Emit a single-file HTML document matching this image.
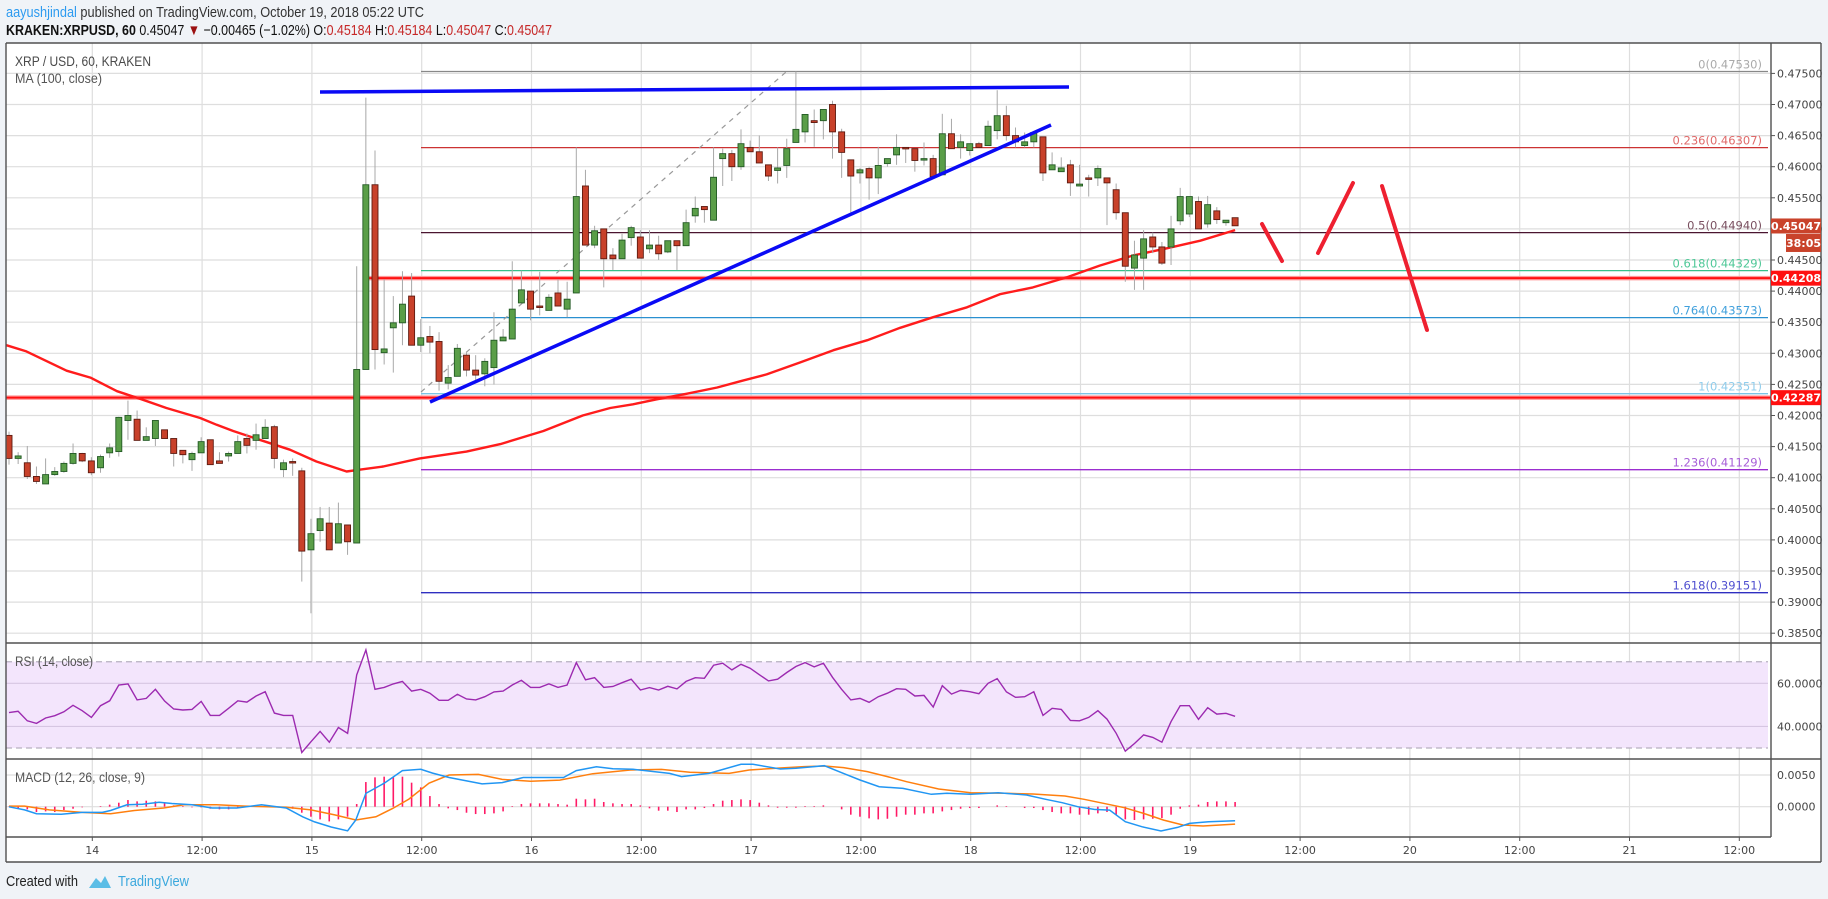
<!DOCTYPE html>
<html><head><meta charset="utf-8"><title>XRP/USD chart</title>
<style>
html,body{margin:0;padding:0;background:#f0f3f7;}
svg{display:block;}
text{font-family:"DejaVu Sans",sans-serif;}
.hd{font-family:"Liberation Sans",sans-serif;}
</style></head>
<body>
<svg id="chart" width="1828" height="899" viewBox="0 0 1828 899" xmlns="http://www.w3.org/2000/svg">
<rect x="0" y="0" width="1828" height="899" fill="#f0f3f7"/>
<text class="hd" x="6" y="17" font-size="15" fill="#333" textLength="418" lengthAdjust="spacingAndGlyphs"><tspan fill="#2d9bf0">aayushjindal</tspan> published on TradingView.com, October 19, 2018 05:22 UTC</text>
<text class="hd" x="6" y="35" font-size="15" fill="#111" textLength="546" lengthAdjust="spacingAndGlyphs"><tspan font-weight="bold">KRAKEN:XRPUSD, 60</tspan> 0.45047 <tspan fill="#9b1010">▼</tspan> −0.00465 (−1.02%) O:<tspan fill="#c62828">0.45184</tspan> H:<tspan fill="#c62828">0.45184</tspan> L:<tspan fill="#c62828">0.45047</tspan> C:<tspan fill="#c62828">0.45047</tspan></text>
<rect x="6" y="43" width="1815" height="819" fill="#ffffff"/>
<g id="grid"></g>
<rect x="6" y="661.7" width="1762" height="86.3" fill="#f3e5fc"/>
<g id="rsigrid"></g>
<g id="fib"></g>
<g id="levels"></g>
<g id="ma"></g>
<g id="candles"></g>
<g id="draw"></g>
<g id="rsi"></g>
<g id="macd"></g>
<g id="frame"></g>
<g id="axis"></g>
<text class="hd" x="15" y="66" font-size="14" fill="#4a4a4a" textLength="136" lengthAdjust="spacingAndGlyphs">XRP / USD, 60, KRAKEN</text>
<text class="hd" x="15" y="83" font-size="14" fill="#555" textLength="87" lengthAdjust="spacingAndGlyphs">MA (100, close)</text>
<text class="hd" x="15" y="666" font-size="14" fill="#555" textLength="78" lengthAdjust="spacingAndGlyphs">RSI (14, close)</text>
<text class="hd" x="15" y="782" font-size="14" fill="#555" textLength="130" lengthAdjust="spacingAndGlyphs">MACD (12, 26, close, 9)</text>
<text class="hd" x="6" y="886" font-size="15" fill="#222" textLength="72" lengthAdjust="spacingAndGlyphs">Created with</text>
<g>
<path d="M89 888 l7 -10 l5 5 l4 -7 l6 12 z" fill="#5bbde6"/>
<text class="hd" x="118" y="886" font-size="15" fill="#3ba8dd" textLength="71" lengthAdjust="spacingAndGlyphs">TradingView</text>
</g>
</svg>
<script>
// ---- candle data (hourly) ----
const opens=[.4168,.4131,.4124,.4102,.4090,.4105,.4110,.4123,.4139,.4127,.4116,.4140,.4142,.4192,.4194,.4160,.4163,.4177,.4163,.4144,.4129,.4140,.4161,.4127,.4135,.4139,.4163,.4160,.4163,.4182,.4113,.4126,.4111,.3984,.4015,.4027,.3995,.4024,.3995,.4274,.4571,.4301,.4341,.4349,.4392,.4313,.4327,.4319,.4252,.4263,.4297,.4273,.4267,.4277,.4320,.4323,.4381,.4400,.4376,.4369,.4397,.4371,.4397,.4569,.4474,.4500,.4458,.4452,.4486,.4487,.4468,.4474,.4463,.4481,.4473,.4521,.4536,.4514,.4613,.4621,.4600,.4631,.4624,.4603,.4594,.4602,.4639,.4656,.4674,.4674,.4700,.4656,.4611,.4590,.4597,.4582,.4605,.4619,.4631,.4629,.4611,.4613,.4587,.4653,.4631,.4626,.4637,.4634,.4658,.4682,.4650,.4634,.4640,.4648,.4595,.4592,.4603,.4569,.4582,.4582,.4582,.4563,.4526,.4437,.4453,.4487,.4471,.4471,.4513,.4524,.4544,.4508,.4529,.4510,.4518];
const highs=[.4174,.4141,.4151,.4118,.4131,.4117,.4126,.4155,.4140,.4133,.4137,.4155,.4198,.4224,.4208,.4181,.4192,.4177,.4163,.4144,.4142,.4165,.4161,.4141,.4142,.4168,.4171,.4187,.4194,.4185,.4129,.4131,.4116,.4034,.4053,.4053,.4060,.4024,.4440,.4711,.4626,.4419,.4392,.4432,.4429,.4355,.4344,.4334,.4281,.4315,.4302,.4297,.4292,.4366,.4339,.4448,.4433,.4400,.4431,.4395,.4419,.4415,.4631,.4595,.4505,.4500,.4469,.4492,.4505,.4498,.4498,.4489,.4481,.4481,.4531,.4552,.4536,.4631,.4629,.4627,.4660,.4642,.4650,.4603,.4631,.4645,.4753,.4684,.4692,.4692,.4706,.4661,.4611,.4598,.4600,.4632,.4613,.4652,.4631,.4629,.4639,.4619,.4685,.4677,.4652,.4637,.4640,.4674,.4723,.4698,.4663,.4655,.4655,.4648,.4623,.4615,.4611,.4603,.4587,.4602,.4582,.4573,.4526,.4481,.4498,.4494,.4479,.4521,.4566,.4552,.4552,.4553,.4535,.4514,.4518];
const lows=[.4121,.4122,.4098,.4090,.4090,.4103,.4108,.4121,.4125,.4104,.4108,.4132,.4134,.4161,.4160,.4160,.4151,.4163,.4118,.4123,.4111,.4140,.4121,.4123,.4126,.4139,.4139,.4145,.4163,.4115,.4101,.4103,.3933,.3882,.3997,.3984,.3995,.3976,.3995,.4274,.4274,.4282,.4269,.4313,.4313,.4302,.4300,.4240,.4242,.4263,.4263,.4255,.4247,.4250,.4320,.4323,.4381,.4353,.4361,.4369,.4376,.4358,.4397,.4474,.4469,.4406,.4434,.4452,.4473,.4453,.4461,.4450,.4461,.4434,.4473,.4510,.4510,.4514,.4569,.4577,.4595,.4624,.4606,.4577,.4573,.4582,.4639,.4639,.4632,.4644,.4613,.4582,.4526,.4573,.4547,.4556,.4600,.4603,.4606,.4592,.4602,.4584,.4587,.4629,.4613,.4618,.4631,.4634,.4644,.4642,.4631,.4631,.4631,.4577,.4595,.4592,.4553,.4569,.4552,.4569,.4506,.4515,.4415,.4402,.4402,.4461,.4442,.4442,.4506,.4519,.4500,.4502,.4508,.4505,.4505];
const closes=[.4131,.4135,.4102,.4094,.4105,.4110,.4123,.4139,.4127,.4108,.4134,.4148,.4197,.4200,.4160,.4166,.4192,.4163,.4139,.4137,.4139,.4158,.4121,.4123,.4139,.4158,.4152,.4169,.4181,.4131,.4124,.4124,.3982,.4010,.4034,.3984,.4026,.3997,.4274,.4571,.4306,.4307,.4349,.4379,.4313,.4325,.4318,.4255,.4261,.4308,.4273,.4265,.4287,.4321,.4326,.4371,.4402,.4371,.4374,.4390,.4376,.4387,.4552,.4474,.4497,.4452,.4452,.4482,.4502,.4453,.4474,.4460,.4481,.4473,.4510,.4533,.4531,.4583,.4621,.4600,.4637,.4624,.4606,.4585,.4598,.4629,.4660,.4684,.4671,.4692,.4656,.4623,.4585,.4595,.4582,.4602,.4613,.4631,.4629,.4610,.4613,.4584,.4653,.4629,.4640,.4637,.4631,.4665,.4682,.4650,.4640,.4640,.4655,.4590,.4603,.4598,.4574,.4572,.4581,.4597,.4574,.4526,.4440,.4458,.4484,.4471,.4445,.4500,.4552,.4552,.4500,.4539,.4515,.4514,.4505];
// ---- MA(100) read at candle positions ----
const maIdx=[-0.3,1.9,6.3,8.9,11.8,14.3,17.2,20.9,22.7,24.5,27.4,30.7,33.6,36.9,38.4,40.9,44.9,50.0,53.7,58.4,62.7,65.7,68.2,70.8,74.1,77.4,79.9,82.8,86.4,90.1,93.8,97.4,101,104.7,108.3,111.9,115.6,119.2,122.8,126.6,130.2,134];
const maVal=[.4313,.4303,.4272,.4261,.4239,.4227,.4212,.4196,.4185,.4175,.4161,.4145,.4126,.4110,.4113,.4118,.4131,.4142,.4154,.4175,.4200,.4212,.4218,.4226,.4235,.4245,.4255,.4266,.4285,.4305,.4321,.4341,.4358,.4374,.4395,.4406,.4422,.4441,.4457,.4469,.4481,.4498];
// ---- RSI(14) ----
const rsiVals=[46.4,47.0,42.6,41.4,43.9,45.0,46.8,49.8,47.3,44.2,49.6,51.9,59.2,59.7,52.3,53.0,57.2,51.8,48.1,47.6,47.9,51.6,45.1,45.1,48.4,51.9,51.3,54.1,56.1,46.2,45.1,45.1,27.9,32.9,37.7,32.7,39.5,36.8,63.9,75.5,57.2,58.1,59.7,60.9,56.4,57.2,55.4,52.1,52.1,54.9,52.7,52.3,53.8,56.0,56.4,59.2,61.4,58.1,58.1,59.7,58.1,59.2,69.6,61.6,62.6,58.1,58.5,60.3,61.9,56.9,58.0,56.9,58.6,57.4,60.9,62.6,62.3,68.4,69.3,66.2,68.8,67.0,64.0,61.1,61.9,65.0,67.8,69.6,67.6,69.3,62.8,57.2,52.3,53.0,51.2,53.8,55.4,57.5,57.2,54.1,54.4,49.0,58.9,55.0,56.7,56.1,55.2,60.0,62.2,56.0,53.5,53.8,56.1,45.1,48.4,47.9,42.8,42.6,44.2,47.3,43.4,36.8,28.5,32.1,36.1,34.9,32.7,42.2,49.6,49.6,43.3,48.7,45.7,46.1,44.7];
// ---- MACD (units of 0.0001) ----
const macdIdx=[0,1.7,3,5.7,8,10.2,11.1,12.9,14.6,16.4,17.8,20,22.2,24.9,27.6,30.3,32.1,33.4,35.2,37,37.9,39,41,43,45,46.3,48.1,51.7,53.9,56.2,60.6,62,64.2,66,68.2,72.2,73.5,76.5,80,81.3,84.3,86,89.1,91.2,93,95.1,97.7,100.8,102.5,105.1,108.1,111.2,113.3,115.1,116.8,118.6,120.3,122,123.8,125.9,127.7,129,131.1,134];
const macdVal=[-0.2,-5,-11,-12,-9,-9,-6,3,4,7,5,3,-2,-2,3,-2,-16,-24,-32,-38,-21,21,37,57,59,53,46,36,38,46,46,57,63,60,59,52.6,47.4,52.6,66.8,66.8,59.5,60.5,64.7,52.6,42.1,31.6,28.9,19.5,21.1,19.5,22.1,18.4,11.6,6.3,0,-4.2,-5.3,-23.7,-31.6,-38.4,-32.6,-26.3,-23.7,-22.1];
const sigIdx=[0,1.7,4.4,8,11.1,13.7,16.9,19.1,22.7,25.8,30.3,33,35.6,37.9,40.1,41.9,43.7,45.9,48.1,51.3,53.9,57,60.2,63.8,67.9,71.3,74.4,78.7,80.9,84.3,86.9,89.1,91.2,93.8,96,98.1,101.6,105.1,108.9,111.9,115.4,117.5,121.9,124,126.2,128.3,130.5,134];
const sigVal=[1,1,-5,-9,-11,-6,-2,3,3,1,-1,-5,-13,-21,-16,-3,12,37,50,51,43,40,42,52,57.9,58.9,54.2,52.6,57.9,61.1,63.2,64.2,61.6,55.3,47.4,39.5,27.9,22.1,21.1,20,16.8,11.6,-1.6,-10.5,-21.1,-28.9,-30.5,-27.4];
const histVals=[-0.5,-2.6,-4.2,-8.4,-7.4,-8.4,-5.3,-3.2,-1,0,1,3.2,6.3,10.5,8.4,9.5,8.4,5.3,2.1,1,-1,-1,-3.2,-4.2,-4.2,-2.1,0.5,1,2.1,1,-0.5,-3.2,-9.5,-15.8,-20,-23.2,-20,-15.8,4.2,38.9,46.3,47.4,47.4,47.4,37.9,30.5,16.8,4.2,-2.6,-5.3,-9.5,-11.6,-11.6,-10.5,-7.4,1,4.2,5.3,5.3,5.3,4.2,3.2,12.6,11.6,12.6,7.4,5.3,4.2,4.2,2.1,-2.6,-6.3,-6.3,-8.4,-4.2,-4.2,-2.1,4.2,9.5,10.5,11.6,10.5,6.3,2.1,-1.6,-1.6,-1.6,1,1,2.1,0,-4.2,-12.6,-15.8,-18.4,-20,-19,-15.8,-12.6,-12.6,-10.5,-10.5,-7.4,-5.3,-3.2,-2.1,-2.1,0,2.1,1,0,-2.1,-2.1,-5.3,-8.4,-10.5,-10.5,-12.6,-12.6,-10.5,-8.4,-12.6,-20,-21,-20,-19,-17.9,-12.6,-3.2,2.1,3.2,7.4,8.4,8.4,7.4];
// ---- axes ----
const priceTicks=[0.475,0.47,0.465,0.46,0.455,0.45,0.445,0.44,0.435,0.43,0.425,0.42,0.415,0.41,0.405,0.40,0.395,0.39,0.385];
const timeLabels=["14","12:00","15","12:00","16","12:00","17","12:00","18","12:00","19","12:00","20","12:00","21","12:00"];
const fibRatios=["0","0.236","0.5","0.618","0.764","1","1.236","1.618"];
const fibPrices=[0.47530,0.46307,0.44940,0.44329,0.43573,0.42351,0.41129,0.39151];
const fibColors=["#888888","#cc3333","#4a1530","#36c08a","#2a90d0","#7cc4e6","#9b2ed0","#2f2fc0"];
const fibLabelColors=["#aaaaaa","#e06a6a","#7a5060","#50c898","#40a0dc","#90cdec","#a860d8","#5050d0"];
const levelPrices=[0.44208,0.42287];

const NS="http://www.w3.org/2000/svg";
function X(i){return 9+i*9.15;}
function Y(p){return 73.4+(0.475-p)*6220;}
function R(r){return 683.3+(60-r)*2.157;}
function M(v){return 806.7-v*0.634;}
function mk(tag,attrs,parent){const e=document.createElementNS(NS,tag);for(const k in attrs)e.setAttribute(k,attrs[k]);parent.appendChild(e);return e;}
const G=id=>document.getElementById(id);

// grid
const grid=G('grid');
priceTicks.forEach(p=>{const l=mk('line',{x1:6,x2:1771,y1:Y(p),y2:Y(p),stroke:'#dedede','stroke-width':1.2},grid);

});
timeLabels.forEach((t,k)=>{const x=92.3+k*109.8;const l=mk('line',{x1:x,x2:x,y1:43,y2:837,stroke:'#dedede','stroke-width':1.2},grid);

});
[0.005,0].forEach(v=>{const l=mk('line',{x1:6,x2:1771,y1:M(v*10000),y2:M(v*10000),stroke:'#dedede','stroke-width':1.2},grid);

});
const rg=G('rsigrid');
[60,40].forEach(r=>{const l=mk('line',{x1:6,x2:1768,y1:R(r),y2:R(r),stroke:'#d6c6e2','stroke-width':1.2},rg);

});
[70,30].forEach(r=>{const l=mk('line',{x1:6,x2:1768,y1:R(r),y2:R(r),stroke:'#b8b0c0','stroke-width':1.2,'stroke-dasharray':'6 4'},rg);

});

// fib
const fib=G('fib');
fibPrices.forEach((p,k)=>{const l=mk('line',{x1:421,x2:1768,y1:Y(p),y2:Y(p),stroke:fibColors[k],'stroke-width':1.3},fib);


const t=mk('text',{x:1762,y:Y(p)-3,'text-anchor':'end','font-size':11.5,fill:fibLabelColors[k]},fib);
t.textContent=fibRatios[k]+'('+p.toFixed(5)+')';

});
const fd=mk('line',{x1:421,y1:392,x2:786,y2:72,stroke:'#999','stroke-width':1.2,'stroke-dasharray':'5 5'},fib);



// horizontal red levels
const lv=G('levels');
levelPrices.forEach((p,k)=>{const x1=k===0?365:6;
const h=mk('line',{x1:x1,x2:1771,y1:Y(p),y2:Y(p),stroke:'#ff9a9a','stroke-width':4.5},lv);


const l=mk('line',{x1:x1,x2:1771,y1:Y(p),y2:Y(p),stroke:'#ff1010','stroke-width':2},lv);

});

// MA
const maPts=maIdx.map((i,k)=>Math.max(6,X(i)).toFixed(1)+','+Y(maVal[k]).toFixed(1)).join(' ');
const maLine=mk('polyline',{points:maPts,fill:'none',stroke:'#ff1c1c','stroke-width':2.4,'stroke-linejoin':'round'},G('ma'));



// candles
const cg=G('candles');
opens.forEach((o,i)=>{const c=closes[i],x=X(i),up=c>=o;
const g=mk('g',{},cg);


mk('line',{x1:x,x2:x,y1:Y(highs[i]),y2:Y(lows[i]),stroke:'#a8a8a8','stroke-width':1},g);
const top=Y(Math.max(o,c)),bot=Y(Math.min(o,c));
mk('rect',{x:x-3,y:top,width:6,height:Math.max(1.5,bot-top),fill:up?'#5a9e48':'#c8412a',stroke:up?'#235a25':'#5e1a10','stroke-width':0.9},g);});

// drawings
const dr=G('draw');
const hl=mk('line',{x1:320,y1:92,x2:1069,y2:87,stroke:'#0a0af5','stroke-width':3.5,'stroke-linecap':'butt'},dr);


const tl=mk('line',{x1:430,y1:402,x2:1051,y2:125,stroke:'#0a0af5','stroke-width':3.5},dr);


[[1262,224,1282,261],[1318,253,1353,183],[1382,186,1427,330]].forEach(s=>{const a=mk('line',{x1:s[0],y1:s[1],x2:s[2],y2:s[3],stroke:'#ee2030','stroke-width':4,'stroke-linecap':'round'},dr);

});

// RSI
const rsiLine=mk('polyline',{points:rsiVals.map((r,i)=>X(i).toFixed(1)+','+R(r).toFixed(1)).join(' '),fill:'none',stroke:'#9c2ab0','stroke-width':1.4},G('rsi'));



// MACD
const mg=G('macd');
histVals.forEach((v,i)=>{const b=mk('line',{x1:X(i),x2:X(i),y1:M(0),y2:M(v),stroke:'#ff1a66','stroke-width':1.6},mg);

});
const sl=mk('polyline',{points:sigIdx.map((i,k)=>X(i).toFixed(1)+','+M(sigVal[k]).toFixed(1)).join(' '),fill:'none',stroke:'#ff7f0e','stroke-width':1.5},mg);


const ml=mk('polyline',{points:macdIdx.map((i,k)=>X(i).toFixed(1)+','+M(macdVal[k]).toFixed(1)).join(' '),fill:'none',stroke:'#2196f3','stroke-width':1.5},mg);



// frame
const fr=G('frame');
[[6,43,1821,43],[6,862,1821,862],[6,43,6,862],[1821,43,1821,862],[1771,43,1771,837],[6,643,1821,643],[6,759,1821,759],[6,837,1771,837]].forEach(s=>{const l=mk('line',{x1:s[0],y1:s[1],x2:s[2],y2:s[3],stroke:'#505050','stroke-width':1.4},fr);

});

// axis labels
const ax=G('axis');
priceTicks.forEach(p=>{mk('line',{x1:1771,x2:1775,y1:Y(p),y2:Y(p),stroke:'#555'},ax);
const t=mk('text',{x:1777,y:Y(p)+4,'font-size':11,fill:'#444'},ax);t.textContent=p.toFixed(5);

});
[[60,'60.0000'],[40,'40.0000']].forEach(a=>{const t=mk('text',{x:1777,y:R(a[0])+4,'font-size':11,fill:'#444'},ax);t.textContent=a[1];

});
[[50,'0.0050'],[0,'0.0000']].forEach(a=>{const t=mk('text',{x:1777,y:M(a[0])+4,'font-size':11,fill:'#444'},ax);t.textContent=a[1];

});
timeLabels.forEach((s,k)=>{const x=92.3+k*109.8;mk('line',{x1:x,x2:x,y1:837,y2:841,stroke:'#555'},ax);
const t=mk('text',{x:x,y:854,'text-anchor':'middle','font-size':11,fill:'#444'},ax);t.textContent=s;

});
function tag(y,h,x,w,fill,txt,name){const g=mk('g',{},ax);


mk('rect',{x:x,y:y-h/2,width:w,height:h,fill:fill},g);
const t=mk('text',{x:x+w/2,y:y+4,'text-anchor':'middle','font-size':11,'font-weight':'bold',fill:'#fff'},g);t.textContent=txt;}
tag(Y(0.45047),15,1771,50,'#c9432b','0.45047','last-price-tag');
tag(Y(0.45047)+17,18,1786,35,'#c9432b','38:05','countdown-tag');
levelPrices.forEach(p=>tag(Y(p),15,1771,50,'#ff1010',p.toFixed(5),'level-price-tag'));
</script>
</body></html>
